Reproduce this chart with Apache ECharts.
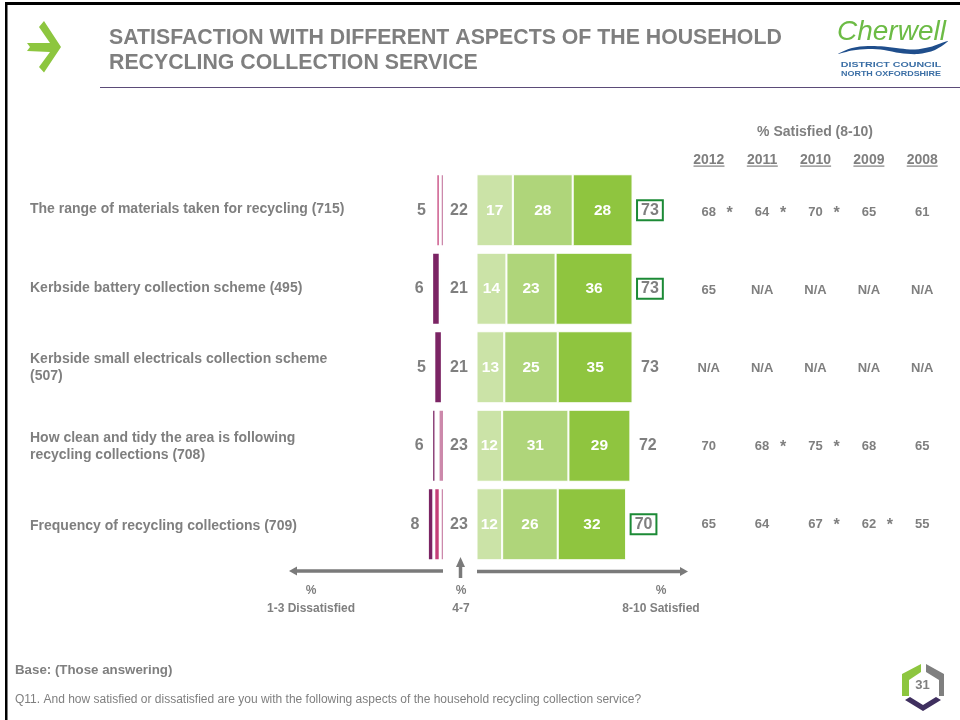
<!DOCTYPE html>
<html><head><meta charset="utf-8">
<style>html,body{margin:0;padding:0;background:#fff}#c{width:960px;height:720px}</style>
<script src="https://cdn.jsdelivr.net/npm/echarts@6/dist/echarts.min.js"></script>
</head><body><div id="c"></div>
<script>
const rowLabels = ['The range of materials taken for recycling (715)','Kerbside battery collection scheme (495)','Kerbside small electricals collection scheme\n(507)','How clean and tidy the area is following\nrecycling collections (708)','Frequency of recycling collections (709)'];
const score1 = [1,4,4,2,3];
const score2 = [2,1,0,1,3];
const score3 = [2,1,1,3,2];
const dissatisfied = [5,6,5,6,8];
const neutral = [22,21,21,23,23];
const score47 = [17,14,13,12,12];
const score89 = [28,23,25,31,26];
const score10 = [28,36,35,29,32];
const satisfied = [73,73,73,72,70];
const boxed = [true,true,false,false,true];
const years = ['2012','2011','2010','2009','2008'];
const trend2012 = ['68','65','N/A','70','65'];
const trend2011 = ['64','N/A','N/A','68','64'];
const trend2010 = ['70','N/A','N/A','75','67'];
const trend2009 = ['65','N/A','N/A','68','62'];
const trend2008 = ['61','N/A','N/A','65','55'];
const trendRows = [trend2012,trend2011,trend2010,trend2009,trend2008];
const sigStars = [['2012',0],['2011',0],['2010',0],['2011',3],['2010',3],['2010',4],['2009',4]];

const FONT='"Liberation Sans",Arial,sans-serif', GREY='#7f7f7f';
const rowIdx=[0,1,2,3,4];
const hiddenX=(gridIndex,min,max)=>({type:'value',gridIndex,min,max,show:false});
const hiddenCatY=(gridIndex)=>({type:'category',gridIndex,inverse:true,data:rowIdx,show:false});
const inBar={show:true,position:'inside',color:'#fff',fontFamily:FONT,fontWeight:'bold',fontSize:15.5};
const barS=(name,data,color,ax,extra)=>Object.assign({name,type:'bar',stack:'s'+ax,xAxisIndex:ax,yAxisIndex:ax,barWidth:ax===0?73:72,data,
  itemStyle:{color,borderColor:'#fff',borderWidth:ax===0?1.5:1},silent:true},extra||{});
const txt=(x,y,text,size,extra)=>({type:'text',x,y,silent:true,style:Object.assign({text,font:'bold '+size+'px '+FONT,fill:GREY,align:'center',verticalAlign:'middle'},extra||{})});
const textS=(ax,data,label)=>({type:'scatter',xAxisIndex:ax,yAxisIndex:ax,symbolSize:0,silent:true,itemStyle:{opacity:1},data,label:Object.assign({show:true,opacity:1,color:GREY,fontFamily:FONT,fontWeight:'bold'},label)});

const graphic=[
 // page frame
 {type:'rect',shape:{x:5,y:2,width:955,height:3},style:{fill:'#000'}},
 {type:'rect',shape:{x:5,y:2,width:2.5,height:718},style:{fill:'#000'}},
 // header
 txt(109,38,'SATISFACTION WITH DIFFERENT ASPECTS OF THE HOUSEHOLD',21.3,{align:'left'}),
 txt(109,63,'RECYCLING COLLECTION SERVICE',21.3,{align:'left'}),
 {type:'line',shape:{x1:100,y1:87.5,x2:960,y2:87.5},style:{stroke:'#5b4b78',lineWidth:1}},
 {type:'polygon',shape:{points:[[44,21],[61,47],[44,72.5],[39,67],[50,52],[27,51],[30,47],[27,43],[50,43],[39,27]]},style:{fill:'#8dc63f'}},
 // logo
 {type:'text',x:837,y:32,style:{text:'Cherwell',font:'italic 28px "Liberation Sans",sans-serif',fill:'#6cbb45',align:'left',verticalAlign:'middle'}},
 {type:'polygon',shape:{points:[[838,54],[852,48],[868,46],[884,46.5],[900,48.5],[915,49.5],[930,47],[948,41],[935,50],[918,54],[900,53],[884,50],[868,49],[852,50.5]],smooth:0.3},style:{fill:'#1f4e8c'}},
 {type:'text',x:891,y:65,scaleX:1.33,style:{text:'DISTRICT COUNCIL',font:'bold 8px '+FONT,fill:'#3a6ea5',align:'center',verticalAlign:'middle'}},
 {type:'text',x:891,y:74,scaleX:1.12,style:{text:'NORTH OXFORDSHIRE',font:'bold 8px '+FONT,fill:'#3a6ea5',align:'center',verticalAlign:'middle'}},
 // trend header
 txt(815,132.5,'% Satisfied (8-10)',14),
 // arrows
 {type:'line',shape:{x1:443,y1:571,x2:295,y2:571},style:{stroke:'#7a7a7a',lineWidth:3.5}},
 {type:'polygon',shape:{points:[[289,571],[297,566.5],[297,575.5]]},style:{fill:'#7a7a7a'}},
 {type:'line',shape:{x1:477,y1:571.5,x2:682,y2:571.5},style:{stroke:'#7a7a7a',lineWidth:3.5}},
 {type:'polygon',shape:{points:[[688,571.5],[680,567],[680,576]]},style:{fill:'#7a7a7a'}},
 {type:'line',shape:{x1:460.5,y1:578,x2:460.5,y2:563},style:{stroke:'#7a7a7a',lineWidth:3.5}},
 {type:'polygon',shape:{points:[[460.5,557],[456,567],[465,567]]},style:{fill:'#7a7a7a'}},
 txt(311,591,'%',12),txt(311,609,'1-3 Dissatisfied',12),
 txt(461,591,'%',12),txt(461,609,'4-7',12),
 txt(661,591,'%',12),txt(661,609,'8-10 Satisfied',12),
 // footer
 txt(15,670,'Base: (Those answering)',13.3,{align:'left'}),
 {type:'text',x:15,y:699.5,style:{text:'Q11. And how satisfied or dissatisfied are you with the following aspects of the household recycling collection service?',font:'12px '+FONT,fill:GREY,align:'left',verticalAlign:'middle'}},
 // page badge
 {type:'polygon',shape:{points:[[902,674],[921,664],[921,672],[909,680],[909,696],[902,696]]},style:{fill:'#8dc63f'}},
 {type:'polygon',shape:{points:[[926,664],[944,674],[944,696],[939,696],[939,680],[926,672]]},style:{fill:'#7f7f7f'}},
 {type:'polygon',shape:{points:[[905,700],[910,697],[923,705],[936,697],[941,700],[923,711]]},style:{fill:'#3f2f5f'}},
 txt(922.5,685,'31',13)
];
// year underlines
years.forEach((y,i)=>graphic.push({type:'rect',shape:{x:693.5+i*53.3,y:165.5,width:31,height:1.2},style:{fill:GREY}}));

const option={
 animation:false,
 backgroundColor:'#fff',
 textStyle:{fontFamily:FONT},
 graphic:{elements:graphic},
 grid:[
  {left:423.1,width:21.4,top:171,height:392.5},
  {left:476.5,width:171,top:171,height:392.5},
  {left:449,width:20,top:171,height:392.5},
  {left:682,width:267,top:173,height:390},
  {left:30,width:300,top:169.4,height:396}
 ],
 xAxis:[
  hiddenX(0,-10,0),
  hiddenX(1,0,80),
  {type:'category',gridIndex:2,data:['4-7'],show:false},
  {type:'category',gridIndex:3,data:years,position:'top',axisLine:{show:false},axisTick:{show:false},
   axisLabel:{margin:6,color:GREY,fontFamily:FONT,fontWeight:'bold',fontSize:14}},
  hiddenX(4,0,1)
 ],
 yAxis:[
  hiddenCatY(0),hiddenCatY(1),hiddenCatY(2),hiddenCatY(3),
  {type:'category',gridIndex:4,inverse:true,data:rowLabels,axisLine:{show:false},axisTick:{show:false},
   axisLabel:{align:'left',margin:0,color:GREY,fontFamily:FONT,fontWeight:'bold',fontSize:14,lineHeight:17}}
 ],
 series:[
  barS('1-3 c',score3.map(v=>-v),'#cc89ab',0),
  barS('1-3 b',score2.map(v=>-v),'#c43f79',0),
  barS('1-3 a',score1.map(v=>-v),'#7b2464',0),
  textS(0,dissatisfied.map((v,i)=>[-v,i,v]),{position:'left',distance:8,formatter:p=>p.value[2],fontSize:16}),
  barS('8',score47,'#cbe3a7',1,{label:inBar}),
  barS('9',score89,'#afd57a',1,{label:inBar}),
  barS('10',score10,'#8fc53f',1,{label:inBar}),
  textS(1,satisfied.map((v,i)=>[v,i,v]),{position:'right',distance:4.5,
     formatter:p=>boxed[p.dataIndex]?'{b|'+p.value[2]+'}':'{p|'+p.value[2]+'}',
     rich:{
      b:{color:GREY,fontFamily:FONT,fontWeight:'bold',fontSize:16,borderColor:'#1c8a36',borderWidth:2,padding:[2,4,2,4]},
      p:{color:GREY,fontFamily:FONT,fontWeight:'bold',fontSize:16,padding:[2,4,2,4]}
     }}),
  textS(2,neutral.map((v,i)=>['4-7',i,v]),{position:'inside',formatter:p=>p.value[2],fontSize:16}),
  textS(3,years.flatMap((y,c)=>trendRows[c].map((t,r)=>[y,r,t])),{position:'inside',formatter:p=>p.value[2],fontSize:13}),
  textS(3,sigStars,{position:'inside',offset:[21,2],formatter:'*',fontSize:16})
 ]
};
echarts.init(document.getElementById('c'),null,{renderer:'canvas'}).setOption(option);
</script></body></html>
